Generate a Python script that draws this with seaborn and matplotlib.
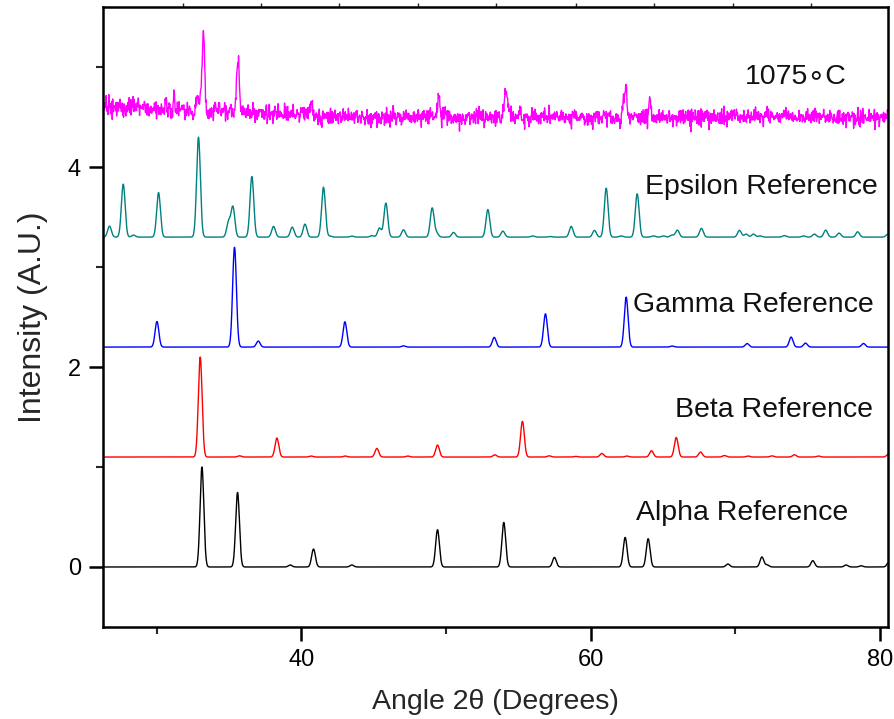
import numpy as np
import pandas as pd
import matplotlib
matplotlib.use("Agg")
import matplotlib.pyplot as plt
from matplotlib.ticker import FixedLocator
import seaborn as sns

# ---- peak lists (2-theta in degrees, relative intensity) ----
alpha_pos = [33.14, 35.60, 39.24, 40.85, 43.50, 49.42, 54.00, 57.50, 62.39, 63.98,
             69.49, 71.84, 72.20, 75.36, 77.66, 78.70, 80.62]
alpha_int = [1.000, 0.746, 0.020, 0.180, 0.020, 0.373, 0.446, 0.096, 0.296, 0.283,
             0.030, 0.100, 0.020, 0.063, 0.020, 0.012, 0.050]

beta_pos = [33.02, 35.74, 38.32, 40.69, 43.04, 45.23, 47.37, 49.42, 53.38, 55.29,
            57.14, 58.98, 60.78, 62.51, 64.21, 65.92, 67.60, 69.25, 70.89, 72.53,
            74.09, 75.75, 80.60]
beta_int = [1.000, 0.012, 0.190, 0.010, 0.010, 0.086, 0.010, 0.120, 0.022, 0.357,
            0.012, 0.006, 0.036, 0.010, 0.063, 0.196, 0.050, 0.015, 0.010, 0.012,
            0.023, 0.010, 0.030]

gamma_pos = [30.03, 35.39, 37.03, 43.02, 47.07, 53.34, 56.88, 62.46, 65.64, 70.82,
             73.86, 74.85, 78.86]
gamma_int = [0.256, 1.000, 0.060, 0.253, 0.012, 0.097, 0.333, 0.500, 0.010, 0.035,
             0.100, 0.040, 0.036]

epsilon_pos = [26.75, 27.70, 28.41, 30.14, 32.90, 34.98, 35.28, 36.59, 38.09, 39.38,
               40.26, 41.54, 42.00, 43.50, 44.89, 45.41, 45.85, 47.07, 49.05, 49.35,
               50.53, 52.90, 53.94, 55.99, 57.20, 58.66, 60.27, 61.08, 62.11, 63.22,
               64.35, 65.04, 65.62, 66.00, 67.66, 70.29, 70.75, 71.26, 71.72, 73.40,
               74.71, 75.47, 76.25, 77.17, 78.46, 80.55]
epsilon_int = [0.110, 0.530, 0.020, 0.446, 1.000, 0.150, 0.300, 0.607, 0.107, 0.100,
               0.130, 0.500, 0.010, 0.010, 0.015, 0.090, 0.340, 0.073, 0.290, 0.040,
               0.047, 0.276, 0.060, 0.012, 0.006, 0.107, 0.067, 0.490, 0.012, 0.433,
               0.012, 0.012, 0.020, 0.070, 0.087, 0.067, 0.030, 0.030, 0.012, 0.015,
               0.012, 0.030, 0.070, 0.040, 0.053, 0.030]

# measured pattern of the sample annealed at 1075 C
sample_pos = [30.65, 31.22, 32.86, 33.10, 33.25, 35.55, 35.67, 40.70, 46.36, 49.50,
              54.10, 54.25, 55.13, 57.50, 62.30, 62.46, 64.07, 72.23, 77.80]
sample_int = [0.150, 0.260, 0.150, 0.250, 0.800, 0.330, 0.480, 0.100, 0.080, 0.200,
              0.140, 0.120, 0.070, 0.050, 0.200, 0.280, 0.160, 0.070, 0.060]
sample_wid = [0.03, 0.03, 0.08, 0.06, 0.07, 0.06, 0.06, 0.10, 0.03, 0.08,
              0.15, 0.15, 0.06, 0.06, 0.08, 0.06, 0.08, 0.06, 0.05]
sample_bg_x = [26.3, 34.0, 45.0, 80.7]
sample_bg_y = [4.60, 4.56, 4.50, 4.50]
sample_noise_x = [26.3, 40.0, 80.7]
sample_noise_sd = [0.05, 0.042, 0.040]

# vertical stacking offsets
offsets = {"Alpha Reference": 0.0, "Beta Reference": 1.1,
           "Gamma Reference": 2.2, "Epsilon Reference": 3.3}
colors = {"Alpha Reference": "#000000", "Beta Reference": "#FF0000",
          "Gamma Reference": "#0000FF", "Epsilon Reference": "#008080",
          "1075\u2218C": "#FF00FF"}
label_xy = {"1075\u2218C": (70.68, 4.90), "Epsilon Reference": (63.77, 3.80),
            "Gamma Reference": (62.94, 2.62), "Beta Reference": (65.85, 1.57),
            "Alpha Reference": (63.15, 0.54)}

XMIN, XMAX = 26.3, 80.55
YMIN, YMAX = -0.6, 5.6


def profile(x, pos, inten, width):
    y = np.zeros_like(x)
    width = np.broadcast_to(width, np.shape(pos))
    for p, h, w in zip(pos, inten, width):
        y += h * np.exp(-0.5 * ((x - p) / w) ** 2)
    return y


x_ref = np.arange(XMIN - 0.2, XMAX + 0.2, 0.02)
frames = []
for name, pos, inten in [("Alpha Reference", alpha_pos, alpha_int),
                         ("Beta Reference", beta_pos, beta_int),
                         ("Gamma Reference", gamma_pos, gamma_int),
                         ("Epsilon Reference", epsilon_pos, epsilon_int)]:
    y = offsets[name] + profile(x_ref, pos, inten, 0.13)
    frames.append(pd.DataFrame({"angle": x_ref, "intensity": y, "pattern": name}))

# detector counting noise on top of the measured background
x_meas = np.arange(XMIN - 0.2, XMAX + 0.2, 0.03)
rng = np.random.default_rng(1075)
y_meas = (np.interp(x_meas, sample_bg_x, sample_bg_y)
          + profile(x_meas, sample_pos, sample_int, sample_wid)
          + rng.normal(0.0, 1.0, x_meas.size)
          * np.interp(x_meas, sample_noise_x, sample_noise_sd))
frames.append(pd.DataFrame({"angle": x_meas, "intensity": y_meas,
                            "pattern": "1075\u2218C"}))
data = pd.concat(frames, ignore_index=True)

sns.set_style("ticks")
plt.rcParams["font.family"] = ["Liberation Sans", "DejaVu Sans"]

fig = plt.figure(figsize=(8.94, 7.19), dpi=100)
ax = fig.add_axes([0.1152, 0.128, 0.878, 0.862])

for name in colors:
    sub = data[data["pattern"] == name]
    sns.lineplot(data=sub, x="angle", y="intensity", color=colors[name],
                 lw=1.0, estimator=None, sort=False, ax=ax, legend=False)
    lx, ly = label_xy[name]
    ax.text(lx, ly, name, fontsize=20.5, ha="left", va="center", color="#111111")

ax.set_xlim(XMIN, XMAX)
ax.set_ylim(YMIN, YMAX)
ax.xaxis.set_major_locator(FixedLocator([40, 60, 80]))
ax.xaxis.set_minor_locator(FixedLocator([30, 50, 70]))
ax.yaxis.set_major_locator(FixedLocator([0, 2, 4]))
ax.yaxis.set_minor_locator(FixedLocator([1, 3, 5]))
ax.tick_params(which="major", direction="out", length=10, width=1.8,
               labelsize=17, pad=6, colors="black")
ax.tick_params(which="minor", direction="out", length=5, width=1.5)

for sp in ax.spines.values():
    sp.set_visible(True)
    sp.set_linewidth(1.8)
    sp.set_color("black")

top = ax.secondary_xaxis("top")
top.set_xticks([31.85, 37.24, 42.63, 48.09, 53.48, 59.0, 64.4, 69.85, 75.24])
top.set_xticklabels([])
top.tick_params(direction="out", length=3, width=1.0)
top.spines["top"].set_visible(False)

ax.set_xlabel("Angle 2\u03b8 (Degrees)", fontsize=20.5, labelpad=13)
ax.set_ylabel("Intensity (A.U.)", fontsize=23, labelpad=14)

fig.savefig("out.png", dpi=100)
